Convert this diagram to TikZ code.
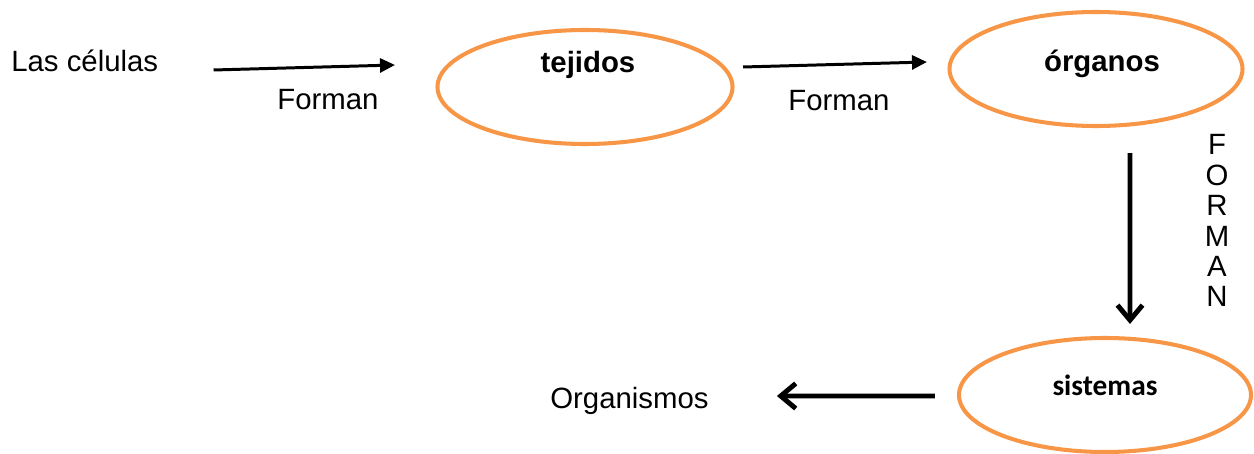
\documentclass[tikz,border=0pt]{standalone}
\usepackage{fontspec}
\setmainfont{Liberation Sans}
\newfontfamily\carlito{Carlito}
\usetikzlibrary{shapes.geometric,arrows.meta}
\definecolor{naranja}{HTML}{F79646}
\begin{document}
\begin{tikzpicture}[scale=1, every node/.style={inner sep=0pt, font=\fontsize{16.7}{20}\selectfont},
    conjunto/.style={ellipse, draw=naranja, line width=2.3pt, minimum width=5.9cm, minimum height=2.28cm},
    negrita/.style={anchor=base, font=\fontsize{16.7}{20}\selectfont\bfseries},
    flecha/.style={line width=1.7pt, -{Triangle[length=0.3cm,width=0.28cm]}},
    flechagruesa/.style={line width=2.8pt, -{Straight Barb[length=0.3cm,width=0.5cm]}}]
            \useasboundingbox (0,0) rectangle (25.08,9.06);
            \node[anchor=base west] (celulas) at (0.22,7.62) {Las células};
            \node[conjunto] (tejidos) at (11.70,7.32) {};
            \node[conjunto, minimum width=5.86cm] (organos) at (21.92,7.68) {};
            \node[conjunto, minimum width=5.84cm] (sistemas) at (22.10,1.16) {};
            \node[anchor=base west] (organismos) at (11.0,0.90) {Organismos};
            % Labels
            \node[negrita] (tejidostxt) at (11.76,7.60) {tejidos};
            \node[negrita] (organostxt) at (22.04,7.62) {órganos};
            \node[negrita, font=\fontsize{16.7}{20}\selectfont\carlito\bfseries] (sistemastxt) at (22.10,1.16) {sistemas};
            \node[anchor=base] (forman1) at (6.56,6.86) {Forman};
            \node[anchor=base] (forman2) at (16.78,6.84) {Forman};
            \foreach \l [count=\i] in {F,O,R,M,A,N}
              \node[anchor=base] (letra\i) at (24.34,{5.96-0.608*(\i-1)}) {\l};
            % Chain arrows
            \draw[flecha] ([shift={(1.1,0.04)}]celulas.base east) -- ([shift={(-0.81,0.44)}]tejidos.west);
            \draw[flecha] ([shift={(0.17,0.40)}]tejidos.east) -- ([shift={(-0.41,0.14)}]organos.west);
            \draw[flechagruesa] ([shift={(0.68,-0.50)}]organos.south) -- ([shift={(0.50,0.24)}]sistemas.north);
            \draw[flechagruesa] ([shift={(-0.44,-0.02)}]sistemas.west) -- ([shift={(1.36,0.24)}]organismos.base east);
          \end{tikzpicture}
\end{document}
